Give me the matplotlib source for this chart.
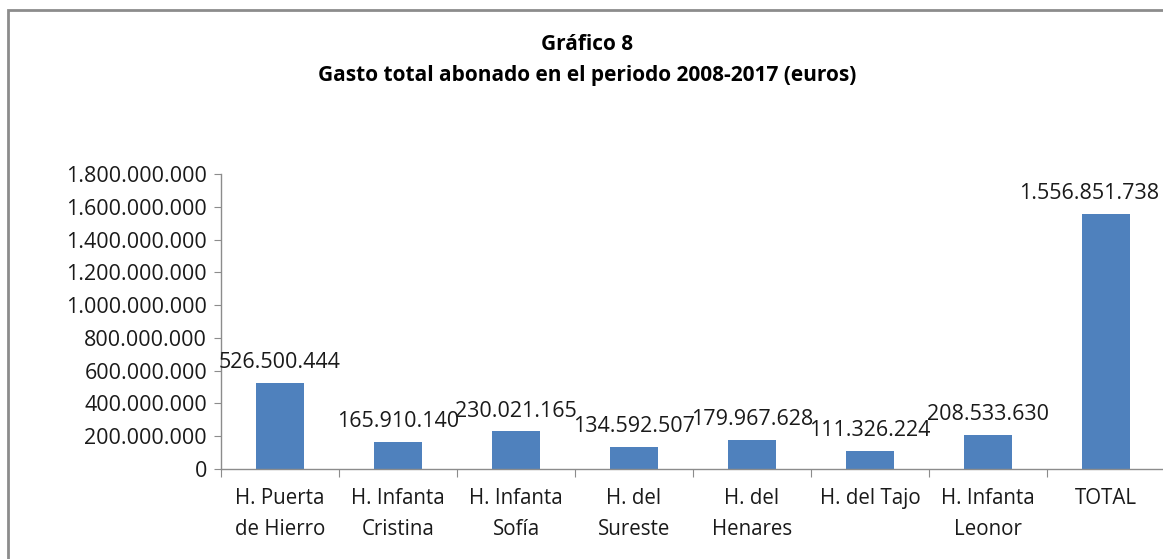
import matplotlib
matplotlib.use("Agg")
import matplotlib.pyplot as plt
from matplotlib.patches import Rectangle
from matplotlib.ticker import FuncFormatter, MultipleLocator

categories = ["H. Puerta\nde Hierro", "H. Infanta\nCristina", "H. Infanta\nSofía",
              "H. del\nSureste", "H. del\nHenares", "H. del Tajo",
              "H. Infanta\nLeonor", "TOTAL"]
values = [526500444, 165910140, 230021165, 134592507, 179967628,
          111326224, 208533630, 1556851738]
title_lines = ["Gráfico 8", "Gasto total abonado en el periodo 2008-2017 (euros)"]

plt.rcParams['font.family'] = ['Open Sans', 'DejaVu Sans']

def fmt(v):
    return f"{int(v):,}".replace(",", ".")

W, H = 1163, 559
fig = plt.figure(figsize=(W / 100, H / 100), dpi=100)
fig.patch.set_facecolor("white")

# outer chart frame (extends past the bottom/right edges)
fig.add_artist(Rectangle((8 / W, -0.05), 1.2, (H - 10) / H + 0.05,
                         transform=fig.transFigure, fill=False,
                         edgecolor="#8c8c8c", linewidth=2))

left, right = 221 / W, 1165 / W
bottom, top = 1 - 469 / H, 1 - 174 / H
ax = fig.add_axes([left, bottom, right - left, top - bottom])
ax.set_facecolor("none")

x = list(range(len(categories)))
ax.bar(x, values, width=0.4, color="#4F81BD", zorder=2)
ax.set_xlim(-0.5, len(categories) - 0.5)
ax.set_ylim(0, 1.8e9)
ax.yaxis.set_major_locator(MultipleLocator(2e8))
ax.yaxis.set_major_formatter(FuncFormatter(lambda v, p: fmt(v)))

n = len(values)
for i, (xi, v) in enumerate(zip(x, values)):
    if i == n - 1:
        ax.annotate(fmt(v), (xi + 0.45, v), xytext=(0, 7), textcoords="offset points",
                    ha="right", va="bottom", fontsize=15.5, color="#1a1a1a")
    else:
        ax.annotate(fmt(v), (xi, v), xytext=(0, 7), textcoords="offset points",
                    ha="center", va="bottom", fontsize=15.5, color="#1a1a1a")

for s in ["top", "right"]:
    ax.spines[s].set_visible(False)
for s in ["left", "bottom"]:
    ax.spines[s].set_color("#8c8c8c")
    ax.spines[s].set_linewidth(1)

ax.set_xticks([i - 0.5 for i in range(len(categories) + 1)], minor=False)
ax.set_xticklabels([])
ax.set_xticks(x, minor=True)
ax.set_xticklabels(categories, minor=True, fontsize=14.8, color="#1a1a1a",
                   linespacing=1.6)
ax.tick_params(axis="x", which="major", length=6, color="#8c8c8c", direction="out")
ax.tick_params(axis="x", which="minor", length=0, pad=14)
ax.tick_params(axis="y", length=5, color="#8c8c8c", labelsize=15.5,
               labelcolor="#1a1a1a", pad=5)

fig.text(587 / W, 1 - 44 / H, title_lines[0], ha="center", va="center",
         fontsize=15, fontweight="bold", color="black")
fig.text(587 / W, 1 - 75 / H, title_lines[1], ha="center", va="center",
         fontsize=15, fontweight="bold", color="black")

fig.savefig("out.png", dpi=100, facecolor="white")
